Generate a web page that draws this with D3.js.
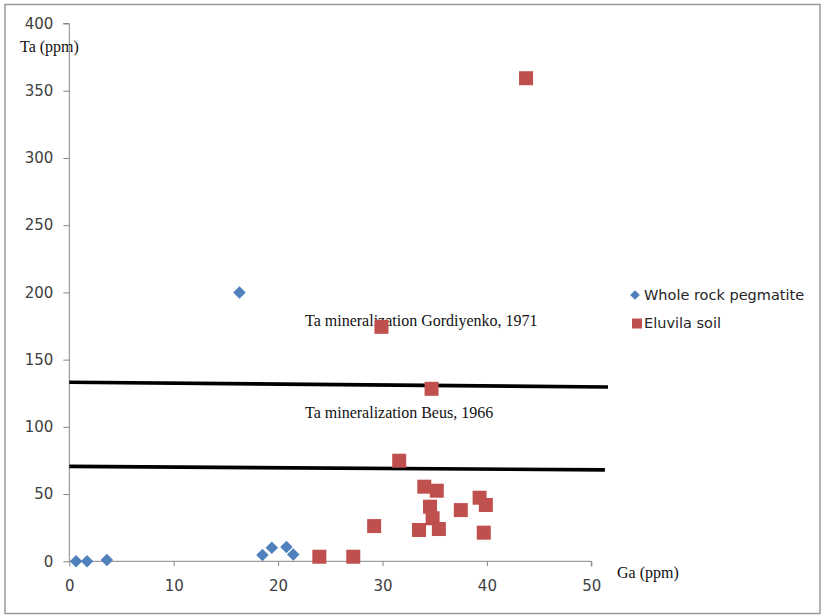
<!DOCTYPE html>
<html>
<head>
<meta charset="utf-8">
<script src="https://cdn.jsdelivr.net/npm/d3@7"></script>
<style>
  html, body { margin: 0; padding: 0; background: #fff; }
  svg { display: block; }
</style>
</head>
<body>
<svg id="chart" width="825" height="616"></svg>
<script>
// Ga vs Ta scatter: whole rock pegmatite and eluvial soil samples
const pegmatiteGa = [0.65, 1.7, 3.6, 16.3, 18.5, 19.4, 20.8, 21.45];
const pegmatiteTa = [0, 0, 1, 200, 4.7, 10, 10.6, 5];

const soilGa = [23.95, 27.2, 29.2, 31.6, 34.0, 35.2, 34.55, 34.8, 33.5, 35.4, 37.5, 39.3, 39.9, 39.7, 29.9, 34.7, 43.75];
const soilTa = [3.4, 3.4, 26.2, 74.8, 55.5, 52.5, 40.6, 32, 23.3, 24, 38.1, 47.3, 41.9, 21.3, 174.4, 128.3, 359.3];

// Reference lines for Ta mineralization thresholds (drawn slightly sloped)
const gordiyenkoLine = [[0, 133.2], [51.6, 129.6]];
const beusLine = [[0, 70.6], [51.3, 68.0]];

const xTicks = [0, 10, 20, 30, 40, 50];
const yTicks = [0, 50, 100, 150, 200, 250, 300, 350, 400];

const seriesNames = ["Whole rock pegmatite", "Eluvila soil"];
const seriesColors = ["#4F81BD", "#C0504D"];

const svg = d3.select("#chart");

// outer frame
svg.append("rect")
  .attr("x", 5).attr("y", 4.5)
  .attr("width", 815).attr("height", 609)
  .attr("fill", "#fff")
  .attr("stroke", "#9a9a9a")
  .attr("stroke-width", 1.5);

const x = d3.scaleLinear().domain([0, 50]).range([69.3, 591.3]);
const y = d3.scaleLinear().domain([0, 400]).range([561.3, 23.5]);

const axisColor = "#868686";
const tickFont = "DejaVu Sans, sans-serif";

// y axis
const yAxis = svg.append("g")
  .attr("transform", `translate(${x(0)},0)`)
  .call(d3.axisLeft(y).tickValues(yTicks).tickSize(6).tickPadding(10).tickFormat(d3.format("d")));
yAxis.select(".domain").attr("stroke", axisColor).attr("d", `M-6,${y(400)}H0V${y(0)}`);
yAxis.selectAll(".tick line").attr("stroke", axisColor);
yAxis.selectAll(".tick text")
  .attr("fill", "#404040")
  .attr("font-family", tickFont)
  .attr("font-size", 15);

// x axis
const xAxis = svg.append("g")
  .attr("transform", `translate(0,${y(0)})`)
  .call(d3.axisBottom(x).tickValues(xTicks).tickSize(5).tickPadding(14).tickFormat(d3.format("d")));
xAxis.select(".domain").attr("stroke", axisColor).attr("d", `M${x(0)},0H${x(50)}V5`);
xAxis.selectAll(".tick line").attr("stroke", axisColor);
xAxis.selectAll(".tick text")
  .attr("fill", "#404040")
  .attr("font-family", tickFont)
  .attr("font-size", 15);

// axis titles
svg.append("text")
  .attr("x", 20).attr("y", 52)
  .attr("font-family", "Liberation Serif, Times New Roman, serif")
  .attr("font-size", 16)
  .attr("fill", "#111")
  .text("Ta (ppm)");

svg.append("text")
  .attr("x", 617).attr("y", 578)
  .attr("font-family", "Liberation Serif, Times New Roman, serif")
  .attr("font-size", 16)
  .attr("fill", "#111")
  .text("Ga (ppm)");

// threshold lines
const line = d3.line().x(d => x(d[0])).y(d => y(d[1]));
[gordiyenkoLine, beusLine].forEach(pts => {
  svg.append("path")
    .attr("d", line(pts))
    .attr("fill", "none")
    .attr("stroke", "#000")
    .attr("stroke-width", 3.6);
});

// threshold labels
svg.append("text")
  .attr("x", 305).attr("y", 326)
  .attr("font-family", "Liberation Serif, Times New Roman, serif")
  .attr("font-size", 16)
  .attr("fill", "#111")
  .text("Ta mineralization Gordiyenko, 1971");

svg.append("text")
  .attr("x", 305).attr("y", 418)
  .attr("font-family", "Liberation Serif, Times New Roman, serif")
  .attr("font-size", 16)
  .attr("fill", "#111")
  .text("Ta mineralization Beus, 1966");

// pegmatite diamonds
const diamond = d3.symbol().type(d3.symbolDiamond2).size(100);
const pegData = pegmatiteGa.map((g, i) => ({ ga: g, ta: pegmatiteTa[i] }));
svg.append("g").selectAll("path")
  .data(pegData)
  .join("path")
  .attr("d", diamond)
  .attr("transform", d => `translate(${x(d.ga)},${y(d.ta)})`)
  .attr("fill", seriesColors[0]);

// soil squares
const sq = 14;
const soilData = soilGa.map((g, i) => ({ ga: g, ta: soilTa[i] }));
svg.append("g").selectAll("rect")
  .data(soilData)
  .join("rect")
  .attr("x", d => x(d.ga) - sq / 2)
  .attr("y", d => y(d.ta) - sq / 2)
  .attr("width", sq).attr("height", sq)
  .attr("fill", seriesColors[1]);

// legend
const legend = svg.append("g");
legend.append("path")
  .attr("d", d3.symbol().type(d3.symbolDiamond2).size(60)())
  .attr("transform", "translate(635,295)")
  .attr("fill", seriesColors[0]);
legend.append("rect")
  .attr("x", 632).attr("y", 318.5).attr("width", 10).attr("height", 10)
  .attr("fill", seriesColors[1]);
legend.selectAll("text.lg")
  .data(seriesNames)
  .join("text")
  .attr("class", "lg")
  .attr("x", 644)
  .attr("y", (d, i) => 300 + i * 28)
  .attr("font-family", tickFont)
  .attr("font-size", 14.5)
  .attr("fill", "#262626")
  .text(d => d);
</script>
</body>
</html>
